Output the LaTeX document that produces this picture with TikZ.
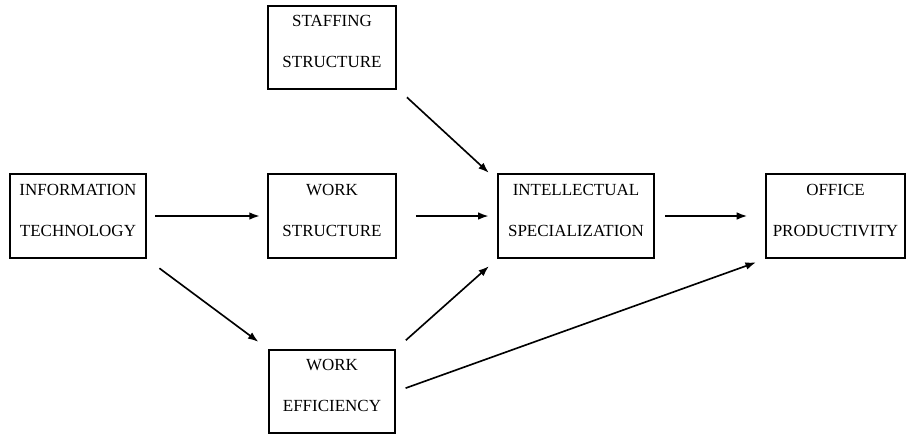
\documentclass[tikz,border=0pt]{standalone}
\usepackage{fontspec}
\setmainfont{Liberation Serif}
\usetikzlibrary{arrows.meta}
\tikzset{
  factor/.style={draw,line width=2pt,align=center,inner sep=2pt,
    font=\fontsize{14.5}{35}\selectfont,text depth=10pt},
  link/.style={line width=1.4pt,-{Latex[length=9pt,width=6.5pt]}}
}

\begin{document}
\begin{tikzpicture}[x=0.03cm,y=-0.03cm]
\useasboundingbox (0,0) rectangle (908,435);
% the six factors
\node[factor,minimum width=4.08cm,minimum height=2.52cm] (info) at (78,216) {INFORMATION\\TECHNOLOGY};
\node[factor,minimum width=3.84cm,minimum height=2.49cm] (staff) at (332,47.5) {STAFFING\\STRUCTURE};
\node[factor,minimum width=3.84cm,minimum height=2.52cm] (work) at (332,216) {WORK\\STRUCTURE};
\node[factor,minimum width=3.78cm,minimum height=2.49cm] (eff) at (332,391.5) {WORK\\EFFICIENCY};
\node[factor,minimum width=4.68cm,minimum height=2.52cm] (spec) at (576,216) {INTELLECTUAL\\SPECIALIZATION};
\node[factor,minimum width=4.17cm,minimum height=2.52cm] (prod) at (835.5,216) {OFFICE\\PRODUCTIVITY};
% causal paths
\draw[link,shorten <=7pt,shorten >=6pt] (info.east) -- (work.west);
\draw[link,shorten <=13pt,shorten >=10pt] (info.south east) -- (eff.north west);
\draw[link,shorten <=9pt] ([xshift=0.06cm]staff.south east) -- ([xshift=-0.24cm]spec.north west);
\draw[link,shorten <=16pt,shorten >=7pt] (work.east) -- (spec.west);
\draw[link,shorten <=11pt,shorten >=9pt] (eff.north east) -- (spec.south west);
\draw[link,shorten <=8.5pt,shorten >=15pt] (spec.east) -- (prod.west);
\draw[link,shorten <=8.5pt,shorten >=8pt] (eff.east) -- (prod.south west);
\end{tikzpicture}
\end{document}
